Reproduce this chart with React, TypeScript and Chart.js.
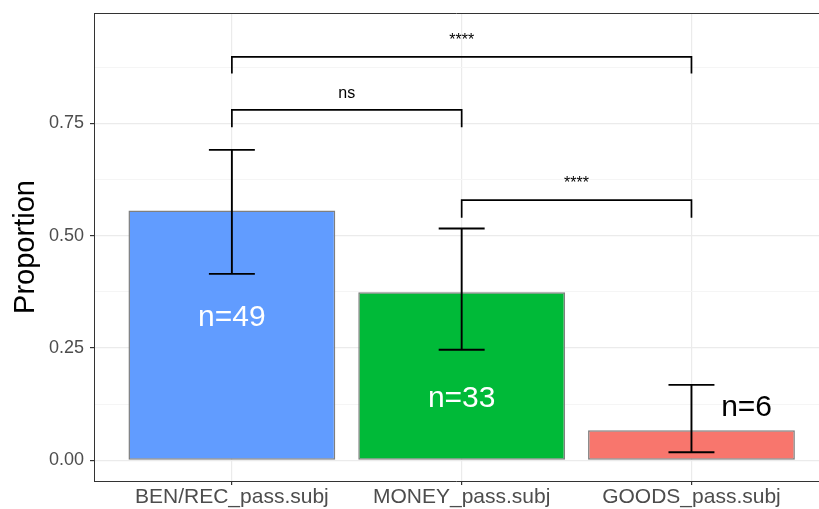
import React, { useEffect, useRef } from "react";
import { Chart, registerables } from "chart.js";

Chart.register(...registerables);

// ---- data ----
const categories = ["BEN/REC_pass.subj", "MONEY_pass.subj", "GOODS_pass.subj"];
const categoryX = [1, 2, 3];
const proportions = [0.556, 0.374, 0.067];
const ciLower = [0.415, 0.246, 0.018];
const ciUpper = [0.691, 0.516, 0.168];
const barColors = ["#619CFF", "#00BA38", "#F8766D"];
const nLabels = ["n=49", "n=33", "n=6"];
const nLabelX = [1, 2, 3.24];
const nLabelY = [0.317, 0.137, 0.116];
const nLabelColors = ["#FFFFFF", "#FFFFFF", "#000000"];
const bracketFrom = [1, 1, 2];
const bracketTo = [3, 2, 3];
const bracketY = [0.898, 0.78, 0.579];
const bracketTipY = [0.861, 0.741, 0.54];
const bracketLabels = ["****", "ns", "****"];
const yMajorTicks = [0, 0.25, 0.5, 0.75];
const yMinorTicks = [0.125, 0.375, 0.625, 0.875];

const FONT = "'Liberation Sans', Arial, Helvetica, sans-serif";
const ERRORBAR_WIDTH = 0.2;

const overlayPlugin = {
  id: "overlay",
  afterDatasetsDraw(chart: any) {
    const { ctx, scales } = chart;
    const x = scales.x;
    const y = scales.y;
    ctx.save();
    // error bars
    ctx.strokeStyle = "#000000";
    ctx.lineWidth = 1.9;
    categoryX.forEach((cx, i) => {
      const px = x.getPixelForValue(cx);
      const l = x.getPixelForValue(cx - ERRORBAR_WIDTH / 2);
      const r = x.getPixelForValue(cx + ERRORBAR_WIDTH / 2);
      const top = y.getPixelForValue(ciUpper[i]);
      const bot = y.getPixelForValue(ciLower[i]);
      ctx.beginPath();
      ctx.moveTo(px, top);
      ctx.lineTo(px, bot);
      ctx.moveTo(l, top);
      ctx.lineTo(r, top);
      ctx.moveTo(l, bot);
      ctx.lineTo(r, bot);
      ctx.stroke();
    });
    // n labels
    ctx.font = `30px ${FONT}`;
    ctx.textAlign = "center";
    ctx.textBaseline = "middle";
    nLabels.forEach((t, i) => {
      ctx.fillStyle = nLabelColors[i];
      ctx.fillText(t, x.getPixelForValue(nLabelX[i]), y.getPixelForValue(nLabelY[i]));
    });
    // significance brackets
    ctx.lineWidth = 1.7;
    ctx.strokeStyle = "#000000";
    ctx.font = `16px ${FONT}`;
    ctx.fillStyle = "#000000";
    ctx.textBaseline = "alphabetic";
    bracketLabels.forEach((t, i) => {
      const x1 = x.getPixelForValue(bracketFrom[i]);
      const x2 = x.getPixelForValue(bracketTo[i]);
      const yb = y.getPixelForValue(bracketY[i]);
      const yt = y.getPixelForValue(bracketTipY[i]);
      ctx.beginPath();
      ctx.moveTo(x1, yt);
      ctx.lineTo(x1, yb);
      ctx.lineTo(x2, yb);
      ctx.lineTo(x2, yt);
      ctx.stroke();
      ctx.fillText(t, (x1 + x2) / 2, yb - 12);
    });
    ctx.restore();
  },
  afterDraw(chart: any) {
    const { ctx, chartArea } = chart;
    ctx.save();
    ctx.strokeStyle = "#333333";
    ctx.lineWidth = 1;
    ctx.beginPath();
    ctx.moveTo(chartArea.left, Math.round(chartArea.top) + 0.5);
    ctx.lineTo(chartArea.right, Math.round(chartArea.top) + 0.5);
    ctx.stroke();
    ctx.restore();
  },
};

export default function App() {
  const canvasRef = useRef<HTMLCanvasElement | null>(null);

  useEffect(() => {
    if (!canvasRef.current) return;
    const allY = [...yMajorTicks, ...yMinorTicks].sort((a, b) => a - b);
    const chart = new Chart(canvasRef.current, {
      type: "bar",
      data: {
        datasets: [
          {
            data: categoryX.map((cx, i) => ({ x: cx, y: proportions[i] })),
            backgroundColor: barColors,
            borderColor: "#7F7F7F",
            borderWidth: 1.5,
            borderSkipped: false,
            categoryPercentage: 1,
            barPercentage: 0.9,
          } as any,
        ],
      },
      options: {
        responsive: false,
        animation: false,
        devicePixelRatio: 1,
        layout: { padding: { top: 13, left: 0, right: 0, bottom: 0 } },
        plugins: { legend: { display: false }, tooltip: { enabled: false } },
        scales: {
          x: {
            type: "linear",
            min: 0.4,
            max: 3.555,
            offset: false,
            afterFit: (s: any) => {
              s.height = 28;
              s.paddingLeft = 0;
              s.paddingRight = 0;
            },
            afterBuildTicks: (s: any) => {
              s.ticks = categoryX.map((v) => ({ value: v }));
            },
            ticks: {
              autoSkip: false,
              maxRotation: 0,
              padding: 2,
              color: "#4D4D4D",
              font: { family: FONT, size: 21, lineHeight: 1 },
              callback: (v: any) => {
                const idx = categoryX.indexOf(Number(v));
                return idx >= 0 ? categories[idx] : "";
              },
            },
            grid: {
              offset: false,
              color: "#EBEBEB",
              lineWidth: 1.2,
              tickLength: 4,
              tickColor: "#333333",
            },
            border: { display: true, color: "#333333", width: 1 },
          },
          y: {
            type: "linear",
            min: -0.046,
            max: 0.9955,
            afterFit: (s: any) => {
              s.width = 94;
              s.paddingTop = 0;
              s.paddingBottom = 0;
            },
            afterBuildTicks: (s: any) => {
              s.ticks = allY.map((v) => ({ value: v }));
            },
            ticks: {
              autoSkip: false,
              padding: 6,
              color: "#4D4D4D",
              font: { family: FONT, size: 18, lineHeight: 0.2 },
              callback: (v: any) => (yMajorTicks.includes(Number(v)) ? Number(v).toFixed(2) : ""),
            },
            grid: {
              color: (c: any) => (yMajorTicks.includes(c.tick?.value) ? "#EBEBEB" : "#F5F5F5"),
              lineWidth: (c: any) => (yMajorTicks.includes(c.tick?.value) ? 1.2 : 1),
              tickLength: 4,
              tickColor: (c: any) => (yMajorTicks.includes(c.tick?.value) ? "#333333" : "rgba(0,0,0,0)"),
            },
            border: { display: true, color: "#333333", width: 1 },
            title: {
              display: true,
              text: "Proportion",
              color: "#000000",
              font: { family: FONT, size: 29 },
              padding: { top: 9, bottom: 0 },
            },
          },
        },
      },
      plugins: [overlayPlugin],
    } as any);
    return () => chart.destroy();
  }, []);

  return (
    <div style={{ position: "absolute", left: 0, top: 0, width: 819, height: 509, background: "#FFFFFF" }}>
      <canvas ref={canvasRef} width={819} height={509} style={{ display: "block" }} />
    </div>
  );
}
